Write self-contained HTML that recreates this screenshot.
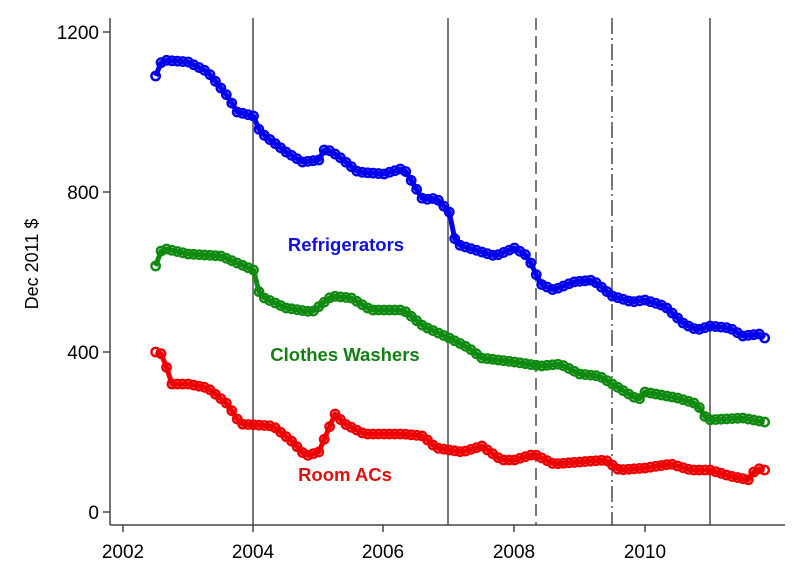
<!DOCTYPE html>
<html><head><meta charset="utf-8"><style>body{margin:0;background:#fff}svg{display:block}text{font-family:"Liberation Sans",Arial,sans-serif}</style></head>
<body>
<svg id="s" width="800" height="571" xmlns="http://www.w3.org/2000/svg">
<g stroke="#777" stroke-width="2">
<line x1="253" y1="18" x2="253" y2="525"/>
<line x1="448" y1="18" x2="448" y2="525"/>
<line x1="710" y1="18" x2="710" y2="525"/>
<line x1="536" y1="18" x2="536" y2="525" stroke-dasharray="12,6"/>
<line x1="612" y1="18" x2="612" y2="525" stroke-dasharray="16,4,2,4"/>
</g>
<g stroke="#444" stroke-width="1.5">
<line x1="110" y1="18" x2="110" y2="525"/>
<line x1="110" y1="525" x2="785" y2="525"/>
<line x1="103" y1="32" x2="110" y2="32"/><line x1="103" y1="192" x2="110" y2="192"/>
<line x1="103" y1="352" x2="110" y2="352"/><line x1="103" y1="512" x2="110" y2="512"/>
<line x1="123" y1="525" x2="123" y2="532"/><line x1="253" y1="525" x2="253" y2="532"/>
<line x1="383" y1="525" x2="383" y2="532"/><line x1="514" y1="525" x2="514" y2="532"/>
<line x1="645" y1="525" x2="645" y2="532"/>
</g>
<g font-size="19" fill="#000" text-anchor="end">
<text x="99" y="39">1200</text><text x="99" y="199">800</text><text x="99" y="359">400</text><text x="99" y="519">0</text>
</g>
<g font-size="19" fill="#000" text-anchor="middle">
<text x="123" y="558">2002</text><text x="253" y="558">2004</text><text x="383" y="558">2006</text><text x="514" y="558">2008</text><text x="645" y="558">2010</text>
</g>
<text transform="translate(38,264) rotate(-90)" font-size="18" text-anchor="middle">Dec 2011 $</text>
<g id="series"></g>
<g font-size="18.5" font-weight="bold" text-anchor="middle">
<text x="346" y="251" fill="#1010e0">Refrigerators</text>
<text x="345" y="361" fill="#128012">Clothes Washers</text>
<text x="345" y="481" fill="#e01010">Room ACs</text>
</g>
</svg>
<script>
const X=t=>123+(t-2002)*65.25, Y=v=>512-v*0.4;
const S=[
["#0000ee",[[2002.5,1090],[2002.6,1130],[2003,1125],[2003.3,1100],[2003.6,1040],[2003.75,1000],[2004,990],[2004.1,950],[2004.5,900],[2004.75,875],[2005,880],[2005.1,910],[2005.3,890],[2005.6,850],[2006,845],[2006.3,860],[2006.6,780],[2006.8,785],[2007,750],[2007.1,670],[2007.5,650],[2007.7,640],[2008,660],[2008.2,640],[2008.4,570],[2008.6,555],[2008.9,575],[2009.2,580],[2009.5,540],[2009.8,525],[2010,530],[2010.3,515],[2010.6,470],[2010.8,455],[2011,465],[2011.3,460],[2011.5,440],[2011.75,445],[2011.83,435]]],
["#108a10",[[2002.5,615],[2002.6,660],[2003,645],[2003.5,640],[2004,605],[2004.1,540],[2004.5,510],[2004.9,500],[2005.2,540],[2005.5,535],[2005.8,505],[2006.3,505],[2006.6,465],[2007,435],[2007.3,410],[2007.5,385],[2008,375],[2008.4,365],[2008.7,370],[2009,345],[2009.3,340],[2009.6,310],[2009.9,280],[2010,300],[2010.5,285],[2010.8,270],[2010.95,230],[2011.5,235],[2011.83,225]]],
["#ee0000",[[2002.5,400],[2002.6,395],[2002.75,320],[2003,320],[2003.3,310],[2003.6,270],[2003.8,220],[2004.3,215],[2004.6,175],[2004.8,140],[2005,150],[2005.25,245],[2005.4,220],[2005.7,195],[2006,195],[2006.3,195],[2006.6,190],[2006.8,160],[2007.2,150],[2007.5,165],[2007.8,130],[2008,130],[2008.3,145],[2008.6,120],[2009,125],[2009.4,130],[2009.6,105],[2010,110],[2010.4,120],[2010.7,105],[2011,105],[2011.3,90],[2011.6,80],[2011.7,110],[2011.83,105]]]];
const g=document.getElementById('series');let h='';
for(const [c,p] of S){let pts=[];
for(let m=0;m<=112;m++){const t=2002.5+m/12;let i=0;while(i<p.length-2&&p[i+1][0]<t)i++;const a=p[i],b=p[i+1];let f=(t-a[0])/(b[0]-a[0]);f=Math.max(0,Math.min(1,f));pts.push([X(t),Y(a[1]+(b[1]-a[1])*f)]);}
h+=`<polyline fill="none" stroke="${c}" stroke-width="5" stroke-linejoin="round" points="${pts.map(q=>q.join(',')).join(' ')}"/>`;
for(const q of pts)h+=`<circle cx="${q[0]}" cy="${q[1]}" r="4.2" fill="none" stroke="${c}" stroke-width="2.4"/>`;}
g.innerHTML=h;
</script>
</body></html>
